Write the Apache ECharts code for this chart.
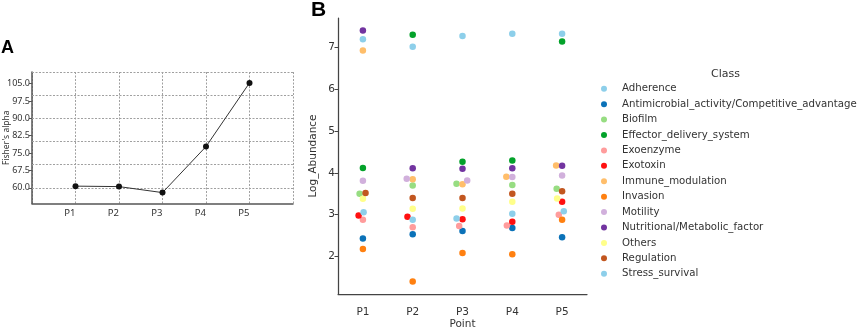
<!DOCTYPE html>
<html>
<head>
<meta charset="utf-8">
<script src="https://cdn.jsdelivr.net/npm/echarts@6/dist/echarts.min.js"></script>
<style>
  html, body { margin: 0; padding: 0; background: #fff; }
  #chart { width: 858px; height: 328px; }
</style>
</head>
<body>
<div id="chart"></div>
<script>
// ---- panel A : Fisher's alpha per point ----
const pointsA = ['P1', 'P2', 'P3', 'P4', 'P5'];
const fisherAlpha = [60.7, 60.5, 57.9, 77.8, 105.3];
const ticksA = [60, 67.5, 75, 82.5, 90, 97.5, 105];
const gridLinesA = [60, 70, 80, 90, 100, 110];

// ---- panel B : log abundance per virulence class ----
const pointsB = ['P1', 'P2', 'P3', 'P4', 'P5'];
const ticksB = [2, 3, 4, 5, 6, 7];
const classes = [
  'Adherence', 'Antimicrobial_activity/Competitive_advantage', 'Biofilm',
  'Effector_delivery_system', 'Exoenzyme', 'Exotoxin', 'Immune_modulation',
  'Invasion', 'Motility', 'Nutritional/Metabolic_factor', 'Others',
  'Regulation', 'Stress_survival'
];
const classColors = [
  '#8dcfea', '#0b72b8', '#97dd82', '#03a22a', '#ff9c9c', '#ff1010', '#ffbe6a',
  '#ff8010', '#d1b0dc', '#7234a0', '#ffff8a', '#c2561f', '#8dcfea'
];
const adherence      = [7.20, 7.02, 7.28, 7.33, 7.33];
const antimicrobial  = [2.43, 2.53, 2.61, 2.68, 2.46];
const biofilm        = [3.50, 3.70, 3.74, 3.71, 3.62];
const effector       = [4.12, 7.31, 4.27, 4.30, 7.15];
const exoenzyme      = [2.88, 2.70, 2.73, 2.74, 3.00];
const exotoxin       = [2.98, 2.95, 2.89, 2.83, 3.31];
const immune         = [6.93, 3.85, 3.73, 3.91, 4.18];
const invasion       = [2.18, 1.40, 2.08, 2.05, 2.88];
const motility       = [3.81, 3.86, 3.82, 3.90, 3.94];
const nutritional    = [7.41, 4.11, 4.10, 4.11, 4.17];
const others         = [3.38, 3.14, 3.15, 3.31, 3.39];
const regulation     = [3.52, 3.40, 3.40, 3.50, 3.56];
const stressSurvival = [3.06, 2.88, 2.91, 3.02, 3.08];

const classValues = [adherence, antimicrobial, biofilm, effector, exoenzyme, exotoxin,
  immune, invasion, motility, nutritional, others, regulation, stressSurvival];

const DOT = 6;       // collision diameter for the swarm, px
const GRID_DOT = '#a0a0a0';
const TXT = '#333';

const chart = echarts.init(document.getElementById('chart'));

function seriesB(offsets) {
  return classes.map((name, k) => ({
    name: name,
    type: 'scatter',
    xAxisIndex: 1,
    yAxisIndex: 1,
    symbol: 'circle',
    symbolSize: 6.5,
    itemStyle: { color: classColors[k], opacity: 1 },
    data: classValues[k].map((v, i) => ({
      value: [i, v],
      symbolOffset: [offsets ? offsets[k][i] : 0, 0]
    }))
  }));
}

const option = {
  animation: false,
  textStyle: { fontFamily: 'DejaVu Sans' },
  graphic: [
    { type: 'text', left: 1, top: 39, style: { text: 'A', font: 'bold 18px "Liberation Sans"', fill: '#000' } },
    { type: 'text', left: 311, top: 0, style: { text: 'B', font: 'bold 21px "Liberation Sans"', fill: '#000' } },
    { type: 'text', left: 711, top: 69, style: { text: 'Class', font: '11px "DejaVu Sans"', fill: TXT } }
  ],
  legend: {
    data: classes,
    orient: 'vertical',
    left: 601,
    top: 81,
    padding: 0,
    icon: 'circle',
    itemWidth: 26,
    itemHeight: 6,
    itemGap: 0,
    selectedMode: false,
    textStyle: { fontFamily: 'DejaVu Sans', fontSize: 10.2, color: TXT, lineHeight: 15.42 }
  },
  grid: [
    { left: 32, top: 72, width: 261, height: 131.5, outerBoundsMode: 'none', containLabel: false },
    { left: 338, top: 18, width: 249, height: 276, outerBoundsMode: 'none', containLabel: false }
  ],
  xAxis: [
    {
      gridIndex: 0,
      type: 'category',
      boundaryGap: false,
      data: [''].concat(pointsA, ['']),
      axisLine: { lineStyle: { color: '#555', width: 1.5 } },
      axisTick: { show: false },
      axisLabel: { interval: 0, align: 'right', margin: 5, fontFamily: 'Noto Sans', fontSize: 9.5, color: TXT },
      splitLine: { show: true, interval: 0, lineStyle: { color: GRID_DOT, type: [2, 1.5], width: 1 } }
    },
    {
      gridIndex: 1,
      type: 'category',
      data: pointsB,
      name: 'Point',
      nameLocation: 'middle',
      nameGap: 25,
      nameMoveOverlap: false,
      nameTextStyle: { fontFamily: 'DejaVu Sans', fontSize: 10.5, color: TXT },
      axisLine: { lineStyle: { color: '#444', width: 1.25 } },
      axisTick: { alignWithLabel: true, length: 3.5, lineStyle: { color: '#444', width: 1 } },
      axisLabel: { margin: 13, fontSize: 10.5, color: TXT },
      splitLine: { show: false }
    }
  ],
  yAxis: [
    {
      gridIndex: 0,
      type: 'value',
      min: 53.2,
      max: 110,
      name: "Fisher's alpha",
      nameLocation: 'middle',
      nameGap: 21,
      nameMoveOverlap: false,
      nameTextStyle: { fontFamily: 'Noto Sans', fontSize: 8.5, color: TXT },
      axisLine: { show: true, lineStyle: { color: '#555', width: 1.5 } },
      axisTick: { show: true, length: 3, customValues: ticksA, lineStyle: { color: '#555' } },
      axisLabel: {
        customValues: ticksA, margin: 2, fontFamily: 'Noto Sans', fontSize: 9, color: TXT,
        formatter: v => v.toFixed(1)
      },
      splitLine: { show: false }
    },
    {
      gridIndex: 1,
      type: 'value',
      min: 1.1,
      max: 7.71,
      name: 'Log_Abundance',
      nameLocation: 'middle',
      nameGap: 19,
      nameMoveOverlap: false,
      nameTextStyle: { fontFamily: 'DejaVu Sans', fontSize: 10.5, color: TXT },
      axisLine: { show: true, lineStyle: { color: '#444', width: 1.25 } },
      axisTick: { show: true, length: 3.5, customValues: ticksB, lineStyle: { color: '#444', width: 1 } },
      axisLabel: { customValues: ticksB, margin: 3, fontSize: 10.5, color: TXT },
      splitLine: { show: false }
    }
  ],
  series: [
    {
      type: 'line',
      xAxisIndex: 0,
      yAxisIndex: 0,
      data: pointsA.map((p, i) => [p, fisherAlpha[i]]),
      symbol: 'circle',
      symbolSize: 6,
      itemStyle: { color: '#111' },
      lineStyle: { color: '#333', width: 1 },
      z: 5,
      markLine: {
        silent: true,
        symbol: 'none',
        label: { show: false },
        lineStyle: { color: GRID_DOT, type: [2, 1.5], width: 1 },
        data: gridLinesA.map(v => ({ yAxis: v }))
      }
    }
  ].concat(seriesB(null))
};

chart.setOption(option);

// swarm layout: place points in value order, nudging sideways to avoid overlap
function swarmOffsets() {
  const offsets = classes.map(() => pointsB.map(() => 0));
  pointsB.forEach((p, i) => {
    const pts = classValues.map((vals, k) => ({
      k: k, y: chart.convertToPixel({ gridIndex: 1 }, [i, vals[i]])[1]
    }));
    pts.sort((a, b) => b.y - a.y);
    const placed = [];
    pts.forEach(pt => {
      const near = placed.filter(q => Math.abs(q.y - pt.y) < DOT);
      const cands = [0];
      let leftFirst = true;
      near.forEach(q => {
        const dy = pt.y - q.y;
        const dx = Math.sqrt(Math.max(DOT * DOT - dy * dy, 0.05));
        cands.push(...(leftFirst ? [q.x - dx, q.x + dx] : [q.x + dx, q.x - dx]));
        leftFirst = !leftFirst;
      });
      const order = cands.map((c, j) => j).sort((a, b) => Math.abs(cands[a]) - Math.abs(cands[b]) || a - b);
      let x = 0;
      for (const j of order) {
        const c = cands[j];
        const ok = near.every(q => (c - q.x) ** 2 + (pt.y - q.y) ** 2 >= DOT * DOT - 1e-6);
        if (ok) { x = c; break; }
      }
      pt.x = x;
      placed.push(pt);
      offsets[pt.k][i] = x;
    });
  });
  return offsets;
}

chart.setOption({ series: [option.series[0]].concat(seriesB(swarmOffsets())) });
</script>
</body>
</html>
